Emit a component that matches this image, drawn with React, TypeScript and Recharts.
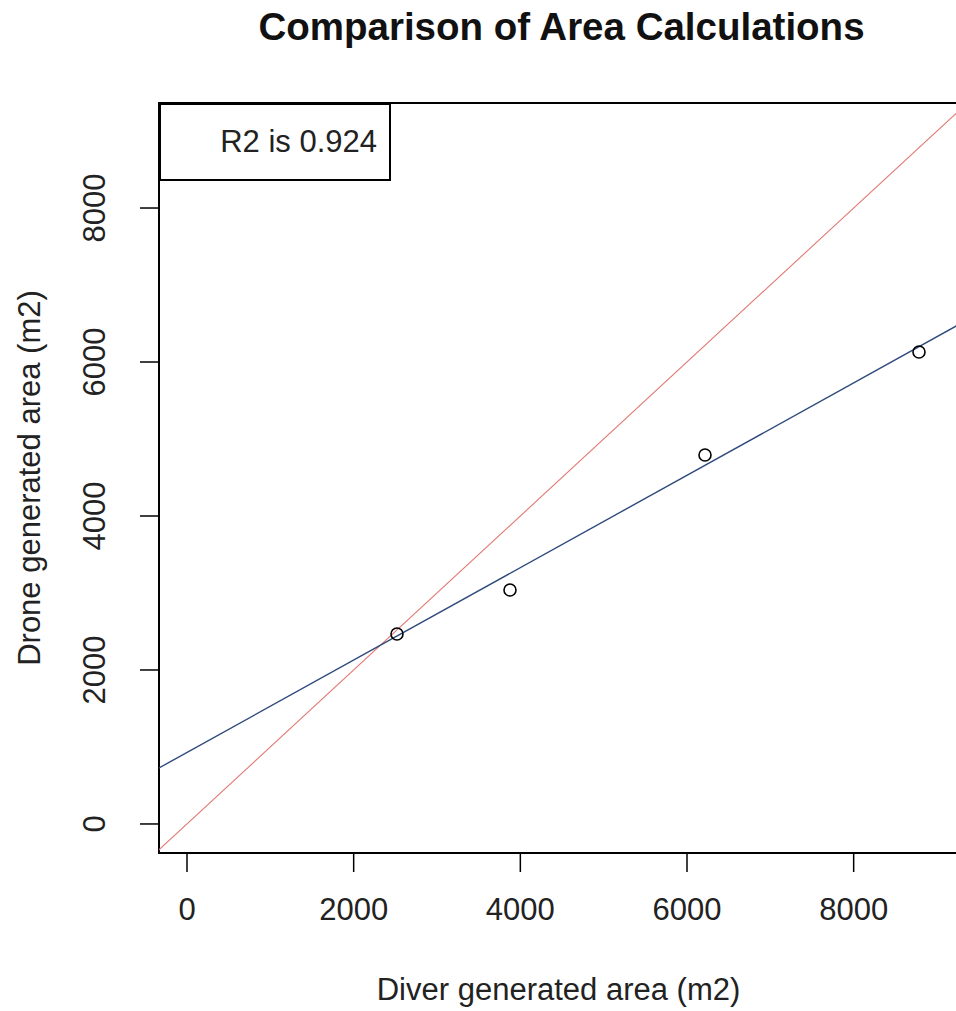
import { ComposedChart, Scatter, XAxis, YAxis, ReferenceArea, Label } from 'recharts'

// values
const diverArea = [2520, 3876, 6216, 8784]
const droneArea = [2468, 3039, 4792, 6130]
const axisTicks = [0, 2000, 4000, 6000, 8000]
const lineX = [-400, 9400]
const fitY = [689, 6569]
const oneToOneY = [-400, 9400]
const xDomain = [-336, 9252]
const yDomain = [-377, 9364]
const r2Label = 'R2 is 0.924'

const points = diverArea.map((x, i) => ({ x, y: droneArea[i] }))
const fitLine = lineX.map((x, i) => ({ x, y: fitY[i] }))
const oneToOne = lineX.map((x, i) => ({ x, y: oneToOneY[i] }))

const FONT = '"Liberation Sans", Arial, sans-serif'
const INK = '#222'

const OpenCircle = (props: any) => (
  <circle cx={props.cx} cy={props.cy} r={6} fill="none" stroke="#000" strokeWidth={1.6} />
)

const NoDot = () => <g />

const YTick = ({ x, y, payload }: any) => (
  <text
    x={x}
    y={y}
    transform={`rotate(-90 ${x} ${y})`}
    textAnchor="middle"
    fontSize={31}
    fontFamily={FONT}
    fill={INK}
  >
    {payload.value}
  </text>
)

const YTitle = ({ viewBox }: any) => {
  const cx = viewBox.x - 59
  const cy = viewBox.y + viewBox.height / 2
  return (
    <text
      x={cx}
      y={cy}
      transform={`rotate(-90 ${cx} ${cy})`}
      textAnchor="middle"
      fontSize={31}
      fontFamily={FONT}
      fill={INK}
    >
      Drone generated area (m2)
    </text>
  )
}

export default function App() {
  return (
    <div
      style={{
        position: 'fixed',
        left: 0,
        top: 0,
        width: 956,
        height: 1011,
        overflow: 'hidden',
        background: '#fff',
        fontFamily: FONT,
      }}
    >
      <div
        style={{
          position: 'absolute',
          left: 162,
          top: 8,
          width: 799,
          textAlign: 'center',
          fontSize: 38.5,
          lineHeight: '38px',
          fontWeight: 'bold',
          color: '#111',
        }}
      >
        Comparison of Area Calculations
      </div>
      <ComposedChart
        width={958}
        height={1011}
        margin={{ top: 103, right: 0, left: 99, bottom: 98 }}
      >
        <XAxis
          type="number"
          dataKey="x"
          domain={xDomain}
          allowDataOverflow
          ticks={axisTicks}
          interval={0}
          height={60}
          axisLine={false}
          tickSize={19}
          tickMargin={26}
          tickLine={{ stroke: '#000', strokeWidth: 1.5 }}
          tick={{ fontSize: 31, fontFamily: FONT, fill: INK }}
        >
          <Label
            value="Diver generated area (m2)"
            position="bottom"
            offset={65}
            style={{ fontSize: 31, fontFamily: FONT, fill: INK }}
          />
        </XAxis>
        <YAxis
          type="number"
          dataKey="y"
          domain={yDomain}
          allowDataOverflow
          ticks={axisTicks}
          interval={0}
          width={60}
          axisLine={false}
          tickSize={19}
          tickMargin={35}
          tickLine={{ stroke: '#000', strokeWidth: 1.5 }}
          tick={<YTick />}
        >
          <Label content={<YTitle />} />
        </YAxis>
        <Scatter
          data={oneToOne}
          line={{ stroke: '#e07a74', strokeWidth: 1.1 }}
          shape={NoDot}
          isAnimationActive={false}
        />
        <Scatter
          data={fitLine}
          line={{ stroke: '#2f4a7c', strokeWidth: 1.4 }}
          shape={NoDot}
          isAnimationActive={false}
        />
        <Scatter data={points} shape={OpenCircle} isAnimationActive={false} />
        <ReferenceArea
          x1={xDomain[0]}
          x2={xDomain[1]}
          y1={yDomain[0]}
          y2={yDomain[1]}
          fill="none"
          fillOpacity={0}
          stroke="#000"
          strokeWidth={2}
          ifOverflow="visible"
        />
      </ComposedChart>
      <div
        style={{
          position: 'absolute',
          left: 159,
          top: 103,
          width: 232,
          height: 78,
          boxSizing: 'border-box',
          border: '2px solid #000',
          background: '#fff',
          display: 'flex',
          alignItems: 'center',
          justifyContent: 'flex-end',
          paddingRight: 12,
          fontSize: 31,
          color: INK,
        }}
      >
        {r2Label}
      </div>
    </div>
  )
}
